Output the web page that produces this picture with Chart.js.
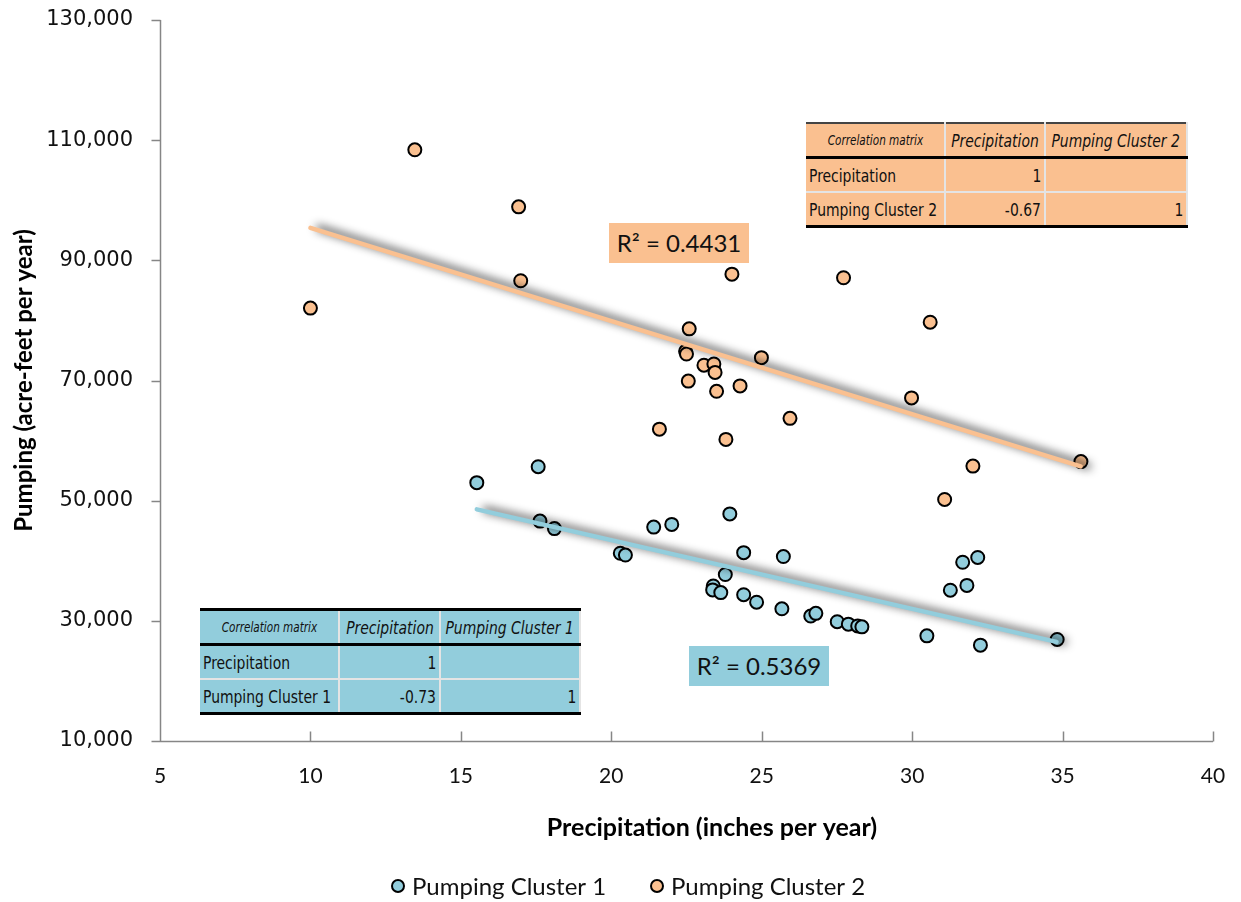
<!DOCTYPE html>
<html>
<head>
<meta charset="utf-8">
<title>Pumping vs Precipitation</title>
<script src="https://cdn.jsdelivr.net/npm/chart.js@4.4.1/dist/chart.umd.min.js"></script>
<style>
  html, body { margin: 0; padding: 0; background: #fff; }
  #wrap { position: relative; width: 1241px; height: 902px; }
  #chart { position: absolute; left: 0; top: 0; }
  .rbox {
    position: absolute; width: 140px; height: 40px; line-height: 40px;
    font-family: Lato, sans-serif; font-size: 24px; text-align: center; color: #111;
  }
  table.cm {
    position: absolute; border-collapse: collapse; table-layout: fixed;
    font-family: "DejaVu Sans Condensed", sans-serif;
    font-size: 18px; color: #111;
  }
  table.cm td, table.cm th {
    height: 32px; padding: 0 3px; border: 2px solid #e4e4e4; white-space: nowrap;
  }
  table.cm th { font-weight: normal; font-style: italic; text-align: center; border-bottom: 3px solid #000; }
  table.cm th.corner { font-size: 13.5px; }
  table.cm td { text-align: left; }
  table.cm td.num { text-align: right; }
  table.cm tr:last-child td { border-bottom: 3px solid #000; }
  table.cm td:first-child, table.cm th:first-child { border-left: none; }
  table.cm .t { display: inline-block; transform: scaleX(0.86); }
  table.cm th .t { margin: 0 -20px; }
  table.cm td .t { transform-origin: left center; margin-right: -25px; }
  table.cm td.num .t { transform-origin: right center; margin-right: 0; margin-left: -25px; }
  table.orange { background: #FAC090; }
  table.orange tr:first-child th { border-top: 2px solid #444; }
  table.blue { background: #92CDDC; }
  table.blue tr:first-child th { border-top: 3px solid #000; }
</style>
</head>
<body>
<div id="wrap">
  <canvas id="chart" width="1241" height="902"></canvas>
  <div id="r2two" class="rbox" style="left:609px; top:223px; background:#FAC090;"></div>
  <div id="r2one" class="rbox" style="left:689px; top:646px; background:#92CDDC;"></div>
  <table id="cm2" class="cm orange" style="left:806px; top:122px;"></table>
  <table id="cm1" class="cm blue" style="left:200px; top:608px;"></table>
</div>
<script>
// ---------- data ----------
const precip1 = [15.53, 17.57, 17.63, 18.11, 20.30, 20.47, 21.41, 22.01, 23.94, 24.40,
                 23.79, 23.39, 23.37, 23.64, 24.40, 24.83, 25.72, 25.67, 26.63, 26.80,
                 27.51, 27.88, 28.19, 28.33, 30.49, 32.27, 34.82, 31.27, 31.82, 31.68, 32.18];
const pumping1 = [53000, 55650, 46600, 45350, 41250, 40950, 45600, 46050, 47800, 41350,
                  37700, 35800, 35150, 34700, 34350, 33100, 40700, 32000, 30800, 31250,
                  29850, 29450, 29150, 29000, 27500, 25950, 26900, 35100, 35900, 39750, 40550];

const precip2 = [10.00, 13.47, 16.92, 16.99, 24.01, 27.72, 30.60, 22.59, 22.47, 22.50,
                 23.08, 23.41, 23.45, 24.99, 22.56, 23.50, 24.28, 25.94, 21.60, 23.81,
                 29.98, 32.02, 31.08, 35.61];
const pumping2 = [82050, 108400, 98900, 86600, 87700, 87100, 79700, 78600, 74850, 74400,
                  72550, 72750, 71350, 73800, 69900, 68200, 69100, 63700, 61900, 60200,
                  67100, 55750, 50200, 56500];

// linear trendline end points
const trend1X = [15.53, 34.8];
const trend1Y = [48560, 26500];
const trend2X = [10.0, 35.6];
const trend2Y = [95400, 55700];

const r2Cluster1 = 0.5369;
const r2Cluster2 = 0.4431;

const xTicks = [5, 10, 15, 20, 25, 30, 35, 40];
const yTicks = [10000, 30000, 50000, 70000, 90000, 110000, 130000];

const matrixVars1 = ["Precipitation", "Pumping Cluster 1"];
const matrixVals1 = [[1, null], [-0.73, 1]];
const matrixVars2 = ["Precipitation", "Pumping Cluster 2"];
const matrixVals2 = [[1, null], [-0.67, 1]];

const BLUE = "#92CDDC";
const ORANGE = "#FAC090";

function toPoints(xs, ys) {
  return xs.map((x, i) => ({ x: x, y: ys[i] }));
}

// ---------- correlation tables + R² boxes ----------
function span(s) {
  return '<span class="t">' + s + "</span>";
}
function buildMatrix(table, vars, vals, widths) {
  const cg = document.createElement("colgroup");
  widths.forEach((w) => {
    const c = document.createElement("col");
    c.style.width = w + "px";
    cg.appendChild(c);
  });
  table.appendChild(cg);
  table.style.width = widths.reduce((a, b) => a + b, 0) + "px";
  let html = '<tr><th class="corner">' + span("Correlation matrix") + "</th>";
  vars.forEach((v) => (html += "<th>" + span(v) + "</th>"));
  html += "</tr>";
  vars.forEach((v, i) => {
    html += "<tr><td>" + span(v) + "</td>";
    vals[i].forEach((n) => (html += '<td class="num">' + (n === null ? "" : span(n)) + "</td>"));
    html += "</tr>";
  });
  table.insertAdjacentHTML("beforeend", html);
}
buildMatrix(document.getElementById("cm1"), matrixVars1, matrixVals1, [139, 101, 140]);
buildMatrix(document.getElementById("cm2"), matrixVars2, matrixVals2, [139, 100, 142]);
document.getElementById("r2one").textContent = "R² = " + r2Cluster1.toFixed(4);
document.getElementById("r2two").textContent = "R² = " + r2Cluster2.toFixed(4);

// ---------- plugins ----------
// shadow under the trendlines
const trendShadow = {
  id: "trendShadow",
  beforeDatasetDraw(chart, args) {
    if (!chart.data.datasets[args.index].isTrend) return;
    const ctx = chart.ctx;
    ctx.save();
    ctx.shadowColor = "rgba(0,0,0,0.9)";
    ctx.shadowBlur = 10;
    ctx.shadowOffsetX = 8;
    ctx.shadowOffsetY = 0;
  },
  afterDatasetDraw(chart, args) {
    if (!chart.data.datasets[args.index].isTrend) return;
    chart.ctx.restore();
  },
};

// excel-style axis lines: y ticks outside, x ticks inside
const excelAxes = {
  id: "excelAxes",
  beforeDatasetsDraw(chart) {
    const { ctx, chartArea: a, scales } = chart;
    const left = Math.round(a.left) + 0.5;
    const bottom = Math.round(a.bottom) + 0.5;
    ctx.save();
    ctx.strokeStyle = "#868686";
    ctx.lineWidth = 1.5;
    ctx.beginPath();
    ctx.moveTo(left, a.top);
    ctx.lineTo(left, bottom);
    ctx.lineTo(a.right, bottom);
    scales.y.ticks.forEach((t) => {
      const py = Math.round(scales.y.getPixelForValue(t.value)) + 0.5;
      ctx.moveTo(left - 9, py);
      ctx.lineTo(left, py);
    });
    scales.x.ticks.forEach((t) => {
      const px = Math.round(scales.x.getPixelForValue(t.value)) + 0.5;
      ctx.moveTo(px, bottom);
      ctx.lineTo(px, bottom - 10);
    });
    ctx.stroke();
    ctx.restore();
  },
};

// x title + bottom legend
const bottomText = {
  id: "bottomText",
  afterDraw(chart) {
    const ctx = chart.ctx;
    ctx.save();
    ctx.fillStyle = "#000";
    ctx.font = "bold 25px Lato, sans-serif";
    ctx.textAlign = "center";
    ctx.textBaseline = "middle";
    ctx.fillText("Precipitation (inches per year)", 712, 828);

    ctx.font = "24px Lato, sans-serif";
    ctx.textAlign = "left";
    const items = chart.data.datasets.filter((d) => !d.isTrend);
    const xs = [398, 657];
    items.forEach((d, i) => {
      ctx.beginPath();
      ctx.arc(xs[i], 886, 6, 0, Math.PI * 2);
      ctx.fillStyle = d.backgroundColor;
      ctx.fill();
      ctx.lineWidth = 2;
      ctx.strokeStyle = "#000";
      ctx.stroke();
      ctx.fillStyle = "#111";
      ctx.fillText(d.label, xs[i] + 14, 887);
    });
    ctx.restore();
  },
};

// ---------- chart ----------
const ctx = document.getElementById("chart").getContext("2d");
new Chart(ctx, {
  type: "scatter",
  data: {
    datasets: [
      {
        label: "Pumping Cluster 1",
        data: toPoints(precip1, pumping1),
        backgroundColor: BLUE,
        borderColor: "#000",
        borderWidth: 2,
        pointRadius: 6.5,
        order: 1,
      },
      {
        label: "Pumping Cluster 2",
        data: toPoints(precip2, pumping2),
        backgroundColor: ORANGE,
        borderColor: "#000",
        borderWidth: 2,
        pointRadius: 6.5,
        order: 1,
      },
      {
        label: "Trend 1",
        isTrend: true,
        data: toPoints(trend1X, trend1Y),
        showLine: true,
        borderColor: BLUE,
        borderWidth: 4.5,
        pointRadius: 0,
        borderCapStyle: "round",
        order: 0,
      },
      {
        label: "Trend 2",
        isTrend: true,
        data: toPoints(trend2X, trend2Y),
        showLine: true,
        borderColor: ORANGE,
        borderWidth: 4.5,
        pointRadius: 0,
        borderCapStyle: "round",
        order: 0,
      },
    ],
  },
  options: {
    responsive: false,
    animation: false,
    devicePixelRatio: 1,
    layout: { padding: { top: 20, right: 28, left: 0, bottom: 0 } },
    plugins: {
      legend: { display: false },
      tooltip: { enabled: false },
    },
    scales: {
      x: {
        type: "linear",
        min: 5,
        max: 40,
        afterBuildTicks: (s) => { s.ticks = xTicks.map((v) => ({ value: v })); },
        afterFit: (s) => {
          s.height = 161;
          s.paddingLeft = 0;
          s.paddingRight = 0;
        },
        grid: { display: false, drawTicks: false },
        border: { display: false },
        ticks: {
          font: { family: "Lato, sans-serif", size: 21 },
          color: "#111",
          padding: 23,
        },
      },
      y: {
        type: "linear",
        min: 10000,
        max: 130000,
        afterBuildTicks: (s) => { s.ticks = yTicks.map((v) => ({ value: v })); },
        afterFit: (s) => {
          s.width = 160;
          s.paddingTop = 0;
          s.paddingBottom = 0;
        },
        grid: { display: false, drawTicks: false },
        border: { display: false },
        ticks: {
          font: { family: '"DejaVu Sans", sans-serif', size: 21 },
          color: "#111",
          padding: 27,
          callback: (v) => v.toLocaleString("en-US"),
        },
        title: {
          display: true,
          text: "Pumping (acre-feet per year)",
          color: "#000",
          font: { family: "Lato, sans-serif", size: 24, weight: "bold" },
          padding: { top: 10, bottom: 0 },
        },
      },
    },
  },
  plugins: [trendShadow, excelAxes, bottomText],
});
</script>
</body>
</html>
